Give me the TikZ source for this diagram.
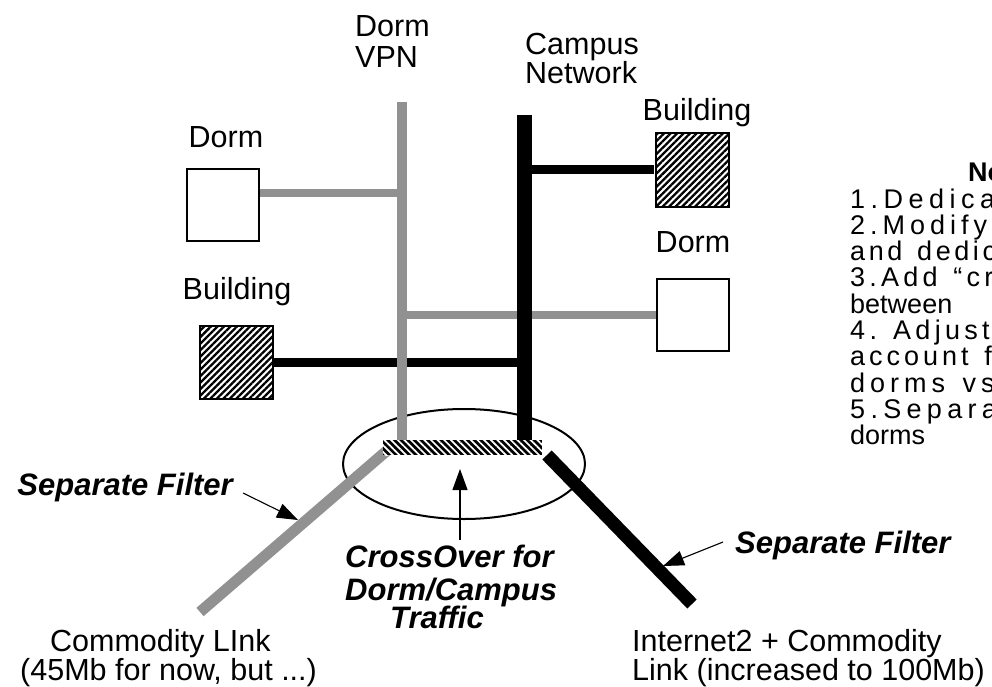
\documentclass[tikz,border=0pt]{standalone}
\usepackage{fontspec}
\setmainfont{Liberation Sans}
\usetikzlibrary{arrows.meta,patterns.meta,shapes.geometric}
\definecolor{vpngray}{RGB}{145,145,145}
\pgfdeclarelayer{bg}
\pgfdeclarelayer{wires}
\pgfsetlayers{bg,wires,main}
% letter-spaced text (justified lines of the notes)
\newdimen\myLSamt
\def\myLSloop#1{\ifx#1\relax\else#1\kern\myLSamt\expandafter\myLSloop\fi}
\newcommand\myspaced[2]{\myLSamt=#1\relax\myLSloop#2\relax}
\tikzset{
  lbl/.style={inner sep=0pt, font=\fontsize{30.5}{30}\selectfont},
  bilbl/.style={inner sep=0pt, font=\fontsize{31}{30}\selectfont\bfseries\itshape},
  notetxt/.style={inner sep=0pt, anchor=base west, font=\fontsize{27}{26}\selectfont},
  dormbox/.style={draw=black, line width=2pt, fill=white, minimum width=72pt, minimum height=72pt, inner sep=0pt},
  bldbox/.style={draw=black, line width=2pt, minimum width=73pt, minimum height=73pt, inner sep=0pt,
    preaction={fill=white}, pattern={Lines[angle=45,distance=4.6pt,line width=2.3pt]}},
  grayv/.style={draw=vpngray, line width=10pt},
  grayh/.style={draw=vpngray, line width=8pt},
  blackv/.style={draw=black, line width=15pt},
  blackh/.style={draw=black, line width=9pt},
  callout/.style={draw=black, line width=1.1pt, -{Triangle[length=21pt,width=15pt]}},
  xoverbar/.style={inner sep=0pt, minimum width=159pt, minimum height=15pt, preaction={fill=black},
    pattern={Lines[angle=-45,distance=4.7pt,line width=1.7pt]}, pattern color=white},
  ringshape/.style={draw=black, line width=2pt, ellipse, minimum width=242pt, minimum height=110pt, inner sep=0pt}
}
\begin{document}
\begin{tikzpicture}[x=1pt,y=-1pt]
\begin{pgfonlayer}{bg}
  \fill[white] (0,0) rectangle (992,687);
\end{pgfonlayer}
\useasboundingbox (0,0) rectangle (992,687);

% ---- backbone coordinates
\coordinate (vpnTop) at (402,102);
\coordinate (vpnBot) at (402,441);
\coordinate (campTop) at (524.5,115);
\coordinate (campBot) at (524.5,441);
\coordinate (vpnJ1) at (402,193);
\coordinate (grayStart) at (390,448);
\coordinate (grayEnd) at (200,612);
\coordinate (blackStart) at (547,455);
\coordinate (blackEnd) at (692,604);

% ---- boxes
\node[dormbox] (dormTL) at (222.5,205) {};
\node[bldbox]  (bldTR)  at (692,170) {};
\node[dormbox] (dormR)  at (692.5,314.5) {};
\node[bldbox]  (bldL)   at (236,362) {};

% ---- crossover
\node[xoverbar] (xover) at (462.5,447.5) {};

% ---- wires
\begin{pgfonlayer}{wires}
  \node[ringshape] (ring) at (464,464) {};
  \draw[grayh] (dormTL.east |- vpnJ1) -- (vpnJ1);
  \draw[grayh] (vpnTop |- dormR.west) -- (dormR.west);
  \draw[blackh] (campTop |- bldTR.west) -- (bldTR.west);
  \draw[blackh] (bldL.east) -- (campTop |- bldL.east);
  \draw[grayv] (vpnTop) -- (vpnBot);
  \draw[blackv] (campTop) -- (campBot);
  \draw[draw=vpngray, line width=11pt] (grayStart) -- (grayEnd);
  \draw[draw=black, line width=13pt] (blackStart) -- (blackEnd);
\end{pgfonlayer}

% ---- labels
\node[lbl, anchor=base] (tDormTL) at (226,148) {Dorm};
\node[lbl, anchor=base west] (tVpn1) at (355,37) {Dorm};
\node[lbl, anchor=base west] (tVpn2) at (355,68) {VPN};
\node[lbl, anchor=base west] (tCamp1) at (525,55) {Campus};
\node[lbl, anchor=base west] (tCamp2) at (525,84) {Network};
\node[lbl, anchor=base] (tBldTR) at (697,121) {Building};
\node[lbl, anchor=base] (tDormR) at (693,252) {Dorm};
\node[lbl, anchor=base] (tBldL) at (237,299) {Building};

\node[bilbl, anchor=base east] (sfL) at (233,495) {Separate Filter};
\node[bilbl, anchor=base west] (sfR) at (735,553) {Separate Filter};
\node[bilbl, anchor=base west] (co1) at (345,567) {CrossOver for};
\node[bilbl, anchor=base west] (co2) at (345,600) {Dorm/Campus};
\node[bilbl, anchor=base west] (co3) at (390,628) {Traffic};

\node[lbl, anchor=base west] (cl1) at (50,651) {Commodity LInk};
\node[lbl, anchor=base west] (cl2) at (20,680) {(45Mb for now, but ...)};
\node[lbl, anchor=base west] (il1) at (632,651) {Internet2 + Commodity};
\node[lbl, anchor=base west] (il2) at (632,680) {Link (increased to 100Mb)};

% ---- callout arrows
\coordinate (sfLa) at (243,493);
\coordinate (sfLb) at (298,520);
\coordinate (sfRa) at (723,542);
\coordinate (sfRb) at (663,566);
\coordinate (coA) at (460,540);
\coordinate (coB) at (460,469);
\draw[callout] (sfLa) -- (sfLb);
\draw[callout] (sfRa) -- (sfRb);
\draw[callout] (coA) -- (coB);

% ---- notes (cut by the page edge, as in the original)
\node[notetxt, font=\fontsize{27}{26}\selectfont\bfseries] (nHead) at (968,182) {Notes};
\node[notetxt] (n1) at (850,208) {\myspaced{5.5pt}{1.Dedica}};
\node[notetxt] (n2) at (850,234.3) {\myspaced{5pt}{2.Modify}};
\node[notetxt] (n3) at (850,260.6) {\myspaced{3.6pt}{and~dedic}};
\node[notetxt] (n4) at (850,286.9) {\myspaced{4.2pt}{3.Add~“cr}};
\node[notetxt] (n5) at (850,313.2) {between};
\node[notetxt] (n6) at (850,339.5) {\myspaced{4.3pt}{4.~Adjust}};
\node[notetxt] (n7) at (850,365.8) {\myspaced{4pt}{account~f}};
\node[notetxt] (n8) at (850,392.1) {\myspaced{5pt}{dorms~vs}};
\node[notetxt] (n9) at (850,418.4) {\myspaced{5.3pt}{5.Separa}};
\node[notetxt] (n10) at (850,444.7) {dorms};
\end{tikzpicture}
\end{document}
